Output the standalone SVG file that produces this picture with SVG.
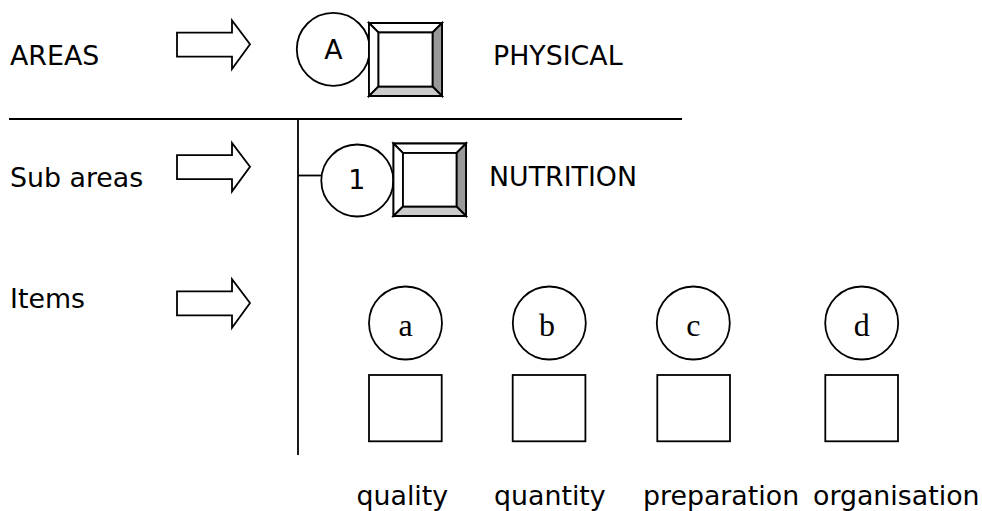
<svg xmlns="http://www.w3.org/2000/svg" width="982" height="511" viewBox="0 0 982 511">
<defs>
<style>
.t{font-family:"DejaVu Sans",Verdana,sans-serif;font-size:26.8px;fill:#000}
.s{font-family:"Liberation Serif","Times New Roman",serif;font-size:32px;fill:#000}
.o{fill:#fff;stroke:#000;stroke-width:1.8}
.ln{stroke:#000;stroke-width:1.8;fill:none}
.bv{stroke:#000;stroke-width:1.8;stroke-linejoin:miter}
</style>
<polygon id="arr" points="177,32.7 232,32.7 232,20.5 250,44.3 232,69 232,56.7 177,56.7" class="o"/>
</defs>
<rect width="982" height="511" fill="#fff"/>
<g id="labels">
<text class="t" x="10" y="65">AREAS</text>
<text class="t" x="10" y="186.5">Sub areas</text>
<text class="t" x="10" y="308">Items</text>
</g>
<g id="arrows">
<use href="#arr"/>
<use href="#arr" transform="translate(0,122.4)"/>
<use href="#arr" transform="translate(0,258.7)"/>
</g>
<g id="connectors">
<line class="ln" x1="9" y1="119" x2="682" y2="119"/>
<line class="ln" x1="298" y1="119" x2="298" y2="455"/>
<line class="ln" x1="298" y1="175.5" x2="321.5" y2="175.5"/>
</g>
<g id="area-A">
<circle class="o" cx="333.3" cy="49.3" r="36.5"/>
<text class="t" x="333.3" y="59" text-anchor="middle">A</text>
<g class="bv">
<rect x="369" y="23" width="73" height="73" fill="#fff"/>
<polygon points="369,23 442,23 432.5,32.5 378.5,32.5" fill="#fff"/>
<polygon points="369,23 378.5,32.5 378.5,86.5 369,96" fill="#fff"/>
<polygon points="442,23 442,96 432.5,86.5 432.5,32.5" fill="#999"/>
<polygon points="369,96 378.5,86.5 432.5,86.5 442,96" fill="#ccc"/>
<rect x="378.5" y="32.5" width="54" height="54" fill="#fff"/>
</g>
<text class="t" x="493" y="65">PHYSICAL</text>
</g>
<g id="subarea-1">
<circle class="o" cx="357.3" cy="180.5" r="36"/>
<text class="t" x="356.7" y="188.5" text-anchor="middle">1</text>
<g class="bv">
<rect x="393.5" y="143.5" width="72.5" height="72.5" fill="#fff"/>
<polygon points="393.5,143.5 466,143.5 456.5,153 403,153" fill="#fff"/>
<polygon points="393.5,143.5 403,153 403,206.5 393.5,216" fill="#fff"/>
<polygon points="466,143.5 466,216 456.5,206.5 456.5,153" fill="#999"/>
<polygon points="393.5,216 403,206.5 456.5,206.5 466,216" fill="#ccc"/>
<rect x="403" y="153" width="53.5" height="53.5" fill="#fff"/>
</g>
<text class="t" x="489" y="186">NUTRITION</text>
</g>
<g id="item-a">
<circle class="o" cx="405.5" cy="323" r="36.5"/>
<text class="s" x="405.5" y="336" text-anchor="middle">a</text>
<rect class="o" x="369" y="375" width="72.7" height="66.3"/>
<text class="t" x="356.5" y="505">quality</text>
</g>
<g id="item-b">
<circle class="o" cx="549.3" cy="323" r="36.5"/>
<text class="s" x="547" y="336" text-anchor="middle">b</text>
<rect class="o" x="512.7" y="375" width="72.7" height="66.3"/>
<text class="t" x="494" y="505">quantity</text>
</g>
<g id="item-c">
<circle class="o" cx="693.3" cy="323" r="36.5"/>
<text class="s" x="693.3" y="336" text-anchor="middle">c</text>
<rect class="o" x="657.3" y="375" width="72.7" height="66.3"/>
<text class="t" x="643" y="505">preparation</text>
</g>
<g id="item-d">
<circle class="o" cx="861.7" cy="323" r="36.5"/>
<text class="s" x="861.7" y="336" text-anchor="middle">d</text>
<rect class="o" x="825.3" y="375" width="72.7" height="66.3"/>
<text class="t" x="813" y="505">organisation</text>
</g>
</svg>
